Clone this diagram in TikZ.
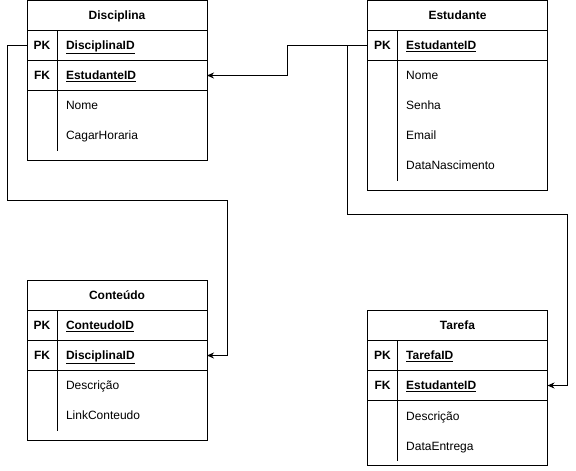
\documentclass[tikz,border=0pt]{standalone}
\usepackage{fontspec}
\setmainfont{Liberation Sans}
\usetikzlibrary{arrows.meta}

\begin{document}
\begin{tikzpicture}[x=1pt, y=-1pt, line width=1pt,
    every node/.style={font=\fontsize{12}{14}\selectfont, text height=8.6pt, text depth=0pt},
    table title/.style={rectangle, draw, minimum width=180pt, minimum height=30pt, inner sep=0pt, outer sep=0pt, font=\fontsize{12}{14}\selectfont\bfseries},
    key row/.style={rectangle, draw, minimum width=180pt, minimum height=30pt, inner sep=0pt, outer sep=0pt},
    table body/.style={rectangle, draw, minimum width=180pt, inner sep=0pt, outer sep=0pt},
    key tag/.style={inner sep=0pt, font=\fontsize{12}{14}\selectfont\bfseries},
    key field/.style={anchor=west, inner sep=0pt, font=\fontsize{12}{14}\selectfont\bfseries},
    field/.style={anchor=west, inner sep=0pt},
    fk link/.style={-{Stealth[length=7pt,width=6pt]}},
    ]
  \useasboundingbox (0,0) rectangle (576,471);

  % Disciplina
  \node[table title] (disc) at (117,15.5) {Disciplina};
  \node[key row] (discpk) at (117,45.5) {};
  \node[key row] (discfk) at (117,75.5) {};
  \node[table body, minimum height=70pt] (discbody) at (117,125.5) {};
  \draw (57.5,30.5) -- (57.5,150.5);
  \node[key tag] (discpktag) at (42,45.5) {PK};
  \node[key field] (discpkname) at (65.5,45.5) {\underline{DisciplinaID}};
  \node[key tag] (discfktag) at (42,75.5) {FK};
  \node[key field] (discfkname) at (65.5,75.5) {\underline{EstudanteID}};
  \node[field] (discnome) at (65.5,105.5) {Nome};
  \node[field] (disccarga) at (65.5,135.5) {CagarHoraria};

  % Estudante
  \node[table title] (est) at (457.5,15.5) {Estudante};
  \node[key row] (estpk) at (457.5,45.5) {};
  \node[table body, minimum height=130pt] (estbody) at (457.5,125.5) {};
  \draw (397.8,30.5) -- (397.8,180.5);
  \node[key tag] (estpktag) at (382.5,45.5) {PK};
  \node[key field] (estpkname) at (405.7,45.5) {\underline{EstudanteID}};
  \node[field] (estnome) at (405.7,75.5) {Nome};
  \node[field] (estsenha) at (405.7,105.5) {Senha};
  \node[field] (estemail) at (405.7,135.5) {Email};
  \node[field] (estnasc) at (405.7,165.5) {DataNascimento};

  % Conteudo
  \node[table title] (cont) at (117,295.5) {Conteúdo};
  \node[key row] (contpk) at (117,325.5) {};
  \node[key row] (contfk) at (117,355.5) {};
  \node[table body, minimum height=70pt] (contbody) at (117,405.5) {};
  \draw (57.5,310.5) -- (57.5,430.5);
  \node[key tag] (contpktag) at (42,325.5) {PK};
  \node[key field] (contpkname) at (65.5,325.5) {\underline{ConteudoID}};
  \node[key tag] (contfktag) at (42,355.5) {FK};
  \node[key field] (contfkname) at (65.5,355.5) {\underline{DisciplinaID}};
  \node[field] (contdesc) at (65.5,385.5) {Descrição};
  \node[field] (contlink) at (65.5,415.5) {LinkConteudo};

  % Tarefa
  \node[table title] (tar) at (457.5,325.5) {Tarefa};
  \node[key row] (tarpk) at (457.5,355.5) {};
  \node[key row] (tarfk) at (457.5,385.5) {};
  \node[table body, minimum height=65pt] (tarbody) at (457.5,433) {};
  \draw (397.8,340.5) -- (397.8,460.5);
  \node[key tag] (tarpktag) at (382.5,355.5) {PK};
  \node[key field] (tarpkname) at (405.7,355.5) {\underline{TarefaID}};
  \node[key tag] (tarfktag) at (382.5,385.5) {FK};
  \node[key field] (tarfkname) at (405.7,385.5) {\underline{EstudanteID}};
  \node[field] (tardesc) at (405.7,416.5) {Descrição};
  \node[field] (tarentrega) at (405.7,446.5) {DataEntrega};

  % relations
  \coordinate (j1) at (287.5,60);
  \coordinate (j2) at (347.5,214.5);
  \coordinate (j3) at (567.5,300);
  \coordinate (j4) at (7.5,200);
  \coordinate (j5) at (227.5,280);

  \draw[fk link] (estpk.west) -| (j1) |- (discfk.east);
  \draw[fk link] (estpk.west) -| (j2) -| (j3) |- (tarfk.east);
  \draw[fk link] (discpk.west) -| (j4) -| (j5) |- (contfk.east);
\end{tikzpicture}
\end{document}
